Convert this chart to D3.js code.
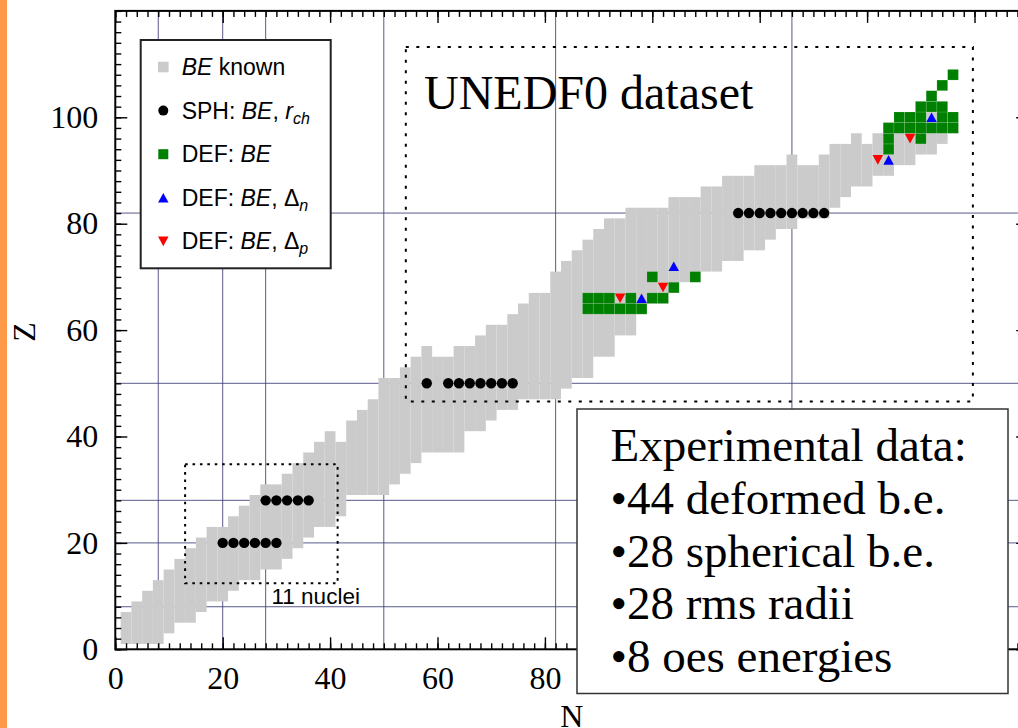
<!DOCTYPE html>
<html>
<head>
<meta charset="utf-8">
<script src="https://cdn.jsdelivr.net/npm/d3@7"></script>
<style>
  html, body { margin: 0; padding: 0; background: #fff; }
  svg { display: block; }
</style>
</head>
<body>
<svg id="chart" width="1018" height="728"></svg>
<script>
// Even-even nuclei with known binding energies: for each even N, the lowest and highest even Z
const knownN    = [2,4,6,8,10,12,14,16,18,20,22,24,26,28,30,32,34,36,38,40,42,44,46,48,50,52,54,56,58,60,62,64,66,68,70,72,74,76,78,80,82,84,86,88,90,92,94,96,98,100,102,104,106,108,110,112,114,116,118,120,122,124,126,128,130,132,134,136,138,140,142,144,146,148,150,152,154,156];
const knownZmin = [2,2,2,2,4,6,6,8,10,10,12,14,14,16,16,18,20,22,24,24,26,30,30,30,30,32,34,36,38,38,38,38,42,42,44,46,46,48,48,48,48,50,52,52,56,56,60,60,64,66,66,68,70,70,72,72,74,74,76,76,78,80,80,82,82,82,84,86,88,88,90,90,92,92,94,94,96,98];
const knownZmax = [6,8,10,12,14,16,18,20,22,22,24,26,28,30,30,32,34,36,38,40,38,42,44,46,50,50,52,54,56,54,54,56,56,58,60,60,62,64,66,66,70,72,74,76,78,80,80,82,82,82,82,84,84,84,86,86,88,88,88,90,90,90,92,90,90,92,94,94,96,94,96,98,98,98,98,100,98,98];

// Spherical nuclei fitted with binding energies and charge radii
const sphN = [20,22,24,26,28,30, 28,30,32,34,36, 58,62,64,66,68,70,72,74, 116,118,120,122,124,126,128,130,132];
const sphZ = [20,20,20,20,20,20, 28,28,28,28,28, 50,50,50,50,50,50,50,50, 82,82,82,82,82,82,82,82,82];

// Deformed nuclei fitted with binding energies only
const defN = [88,90,92,94,96,98, 88,90,92,96,100,102, 104, 100,108,
              144, 144,150, 144,146,148,150,152,154,156, 146,148,150,154,156, 150,152,154, 152, 154, 156];
const defZ = [64,64,64,64,64,64, 66,66,66,66,66,66, 68, 70,70,
              94, 96,96, 98,98,98,98,98,98,98, 100,100,100,100,100, 102,102,102, 104, 106, 108];

// Deformed nuclei also fitted with neutron / proton odd-even staggering
const dnN = [98,104,144,152];
const dnZ = [66,72,92,100];
const dpN = [94,102,142,148];
const dpZ = [66,68,92,96];

const magicNumbers = [8,20,28,50,82,126];
const xMajorTicks = [0,20,40,60,80,100,120,140,160];
const xTickLabels = [0,20,40,60,80];
const yTickValues = [0,20,40,60,80,100];

const legendRows = [
  {mark: "known", parts: [["BE","i"],[" known",""]]},
  {mark: "sph",   parts: [["SPH: ",""],["BE","i"],[", ",""],["r","i"],["ch","sub"]]},
  {mark: "def",   parts: [["DEF: ",""],["BE","i"]]},
  {mark: "dn",    parts: [["DEF: ",""],["BE","i"],[", \u0394",""],["n","sub"]]},
  {mark: "dp",    parts: [["DEF: ",""],["BE","i"],[", \u0394",""],["p","sub"]]}
];
const infoLines = ["Experimental data:", "\u202244 deformed b.e.", "\u202228 spherical b.e.", "\u202228 rms radii", "\u20228 oes energies"];

// ---------------------------------------------------------------
const svg = d3.select("#chart");
const serif = "'Liberation Serif', 'Times New Roman', serif";
const sans  = "'Liberation Sans', Arial, Helvetica, sans-serif";

const x = d3.scaleLinear().domain([0, 170]).range([115.3, 1028.2]);
const y = d3.scaleLinear().domain([0, 120]).range([649.3, 10.9]);

const GRAY = "#cbcbcb", GREEN = "#008000", BLUE = "#0000ff", RED = "#ff0000";

svg.append("rect").attr("width", 1018).attr("height", 728).attr("fill", "#fff");
svg.append("rect").attr("x", 0).attr("y", 0).attr("width", 7).attr("height", 728).attr("fill", "#fd9a48");

svg.append("defs").append("clipPath").attr("id", "plotClip")
  .append("rect").attr("x", x(0)).attr("y", y(120))
  .attr("width", x(170) - x(0)).attr("height", y(0) - y(120));

const plot = svg.append("g").attr("clip-path", "url(#plotClip)");

// magic-number lines
plot.append("g").selectAll("line").data(magicNumbers).join("line")
  .attr("x1", d => x(d)).attr("x2", d => x(d))
  .attr("y1", y(0)).attr("y2", y(120))
  .attr("stroke", "#3c3c78").attr("stroke-opacity", 0.85).attr("stroke-width", 1);
plot.append("g").selectAll("line").data(magicNumbers).join("line")
  .attr("y1", d => y(d)).attr("y2", d => y(d))
  .attr("x1", x(0)).attr("x2", x(170))
  .attr("stroke", "#3c3c78").attr("stroke-opacity", 0.85).attr("stroke-width", 1);

// known nuclei: one column of 2x2 cells per even N
const columns = knownN.map((n, i) => ({n, z0: knownZmin[i], z1: knownZmax[i]}));
plot.append("g").selectAll("rect").data(columns).join("rect")
  .attr("x", d => x(d.n - 1)).attr("y", d => y(d.z1 + 1))
  .attr("width", d => x(d.n + 1) - x(d.n - 1))
  .attr("height", d => y(d.z0 - 1) - y(d.z1 + 1))
  .attr("fill", GRAY);

const cell = sel => sel
  .attr("x", d => x(d.n - 1)).attr("y", d => y(d.z + 1))
  .attr("width", d => x(d.n + 1) - x(d.n - 1))
  .attr("height", d => y(d.z - 1) - y(d.z + 1));

const defCells = defN.map((n, i) => ({n, z: defZ[i]}));
plot.append("g").selectAll("rect").data(defCells).join("rect")
  .call(cell).attr("fill", GREEN)
  .attr("stroke", "rgba(255,255,255,0.22)").attr("stroke-width", 0.6);

// spherical nuclei
plot.append("g").selectAll("circle").data(sphN.map((n, i) => ({n, z: sphZ[i]}))).join("circle")
  .attr("cx", d => x(d.n)).attr("cy", d => y(d.z)).attr("r", 5.2).attr("fill", "#000");

const triW = 10.5, triH = 9.6;
const triUp = `M0,${-triH/2}L${triW/2},${triH/2}L${-triW/2},${triH/2}Z`;
const triDown = `M0,${triH/2}L${triW/2},${-triH/2}L${-triW/2},${-triH/2}Z`;

plot.append("g").selectAll("path").data(dnN.map((n, i) => ({n, z: dnZ[i]}))).join("path")
  .attr("d", triUp).attr("transform", d => `translate(${x(d.n)},${y(d.z)})`).attr("fill", BLUE);
plot.append("g").selectAll("path").data(dpN.map((n, i) => ({n, z: dpZ[i]}))).join("path")
  .attr("d", triDown).attr("transform", d => `translate(${x(d.n)},${y(d.z)})`).attr("fill", RED);

// dashed regions
function dashedBox(n0, n1, z0, z1, dash) {
  svg.append("rect")
    .attr("x", x(n0)).attr("y", y(z1))
    .attr("width", x(n1) - x(n0)).attr("height", y(z0) - y(z1))
    .attr("fill", "none").attr("stroke", "#000").attr("stroke-width", 2)
    .attr("stroke-dasharray", dash);
}
dashedBox(54.1, 159.7, 46.6, 113.2, "3,7.5");
dashedBox(13.0, 41.4, 12.4, 34.8, "2.6,4.8");

svg.append("text").attr("x", 424).attr("y", 108.5)
  .attr("font-family", serif).attr("font-size", 48).attr("fill", "#000")
  .text("UNEDF0 dataset");
svg.append("text").attr("x", 271.5).attr("y", 604)
  .attr("font-family", sans).attr("font-size", 22.5).attr("fill", "#000")
  .text("11 nuclei");

// axes: ticks point inward on all four sides
function styleAxis(g) {
  g.select(".domain").remove();
  g.selectAll(".tick line").attr("stroke", "#000").attr("stroke-width", 1.4);
  g.selectAll(".tick text").attr("font-family", serif).attr("font-size", 32).attr("fill", "#000");
}
const minorX = d3.range(0, 171, 2), minorY = d3.range(0, 121, 2);

svg.append("g").attr("transform", `translate(0,${y(0)})`)
  .call(d3.axisBottom(x).tickValues(minorX).tickSize(-6).tickFormat("")).call(styleAxis);
svg.append("g").attr("transform", `translate(0,${y(0)})`)
  .call(d3.axisBottom(x).tickValues(xMajorTicks).tickSize(-12).tickFormat("")).call(styleAxis);
svg.append("g").attr("transform", `translate(0,${y(0)})`)
  .call(d3.axisBottom(x).tickValues(xTickLabels).tickSize(0).tickPadding(16.5).tickFormat(d3.format("d")))
  .call(styleAxis);
svg.append("g").attr("transform", `translate(0,${y(120)})`)
  .call(d3.axisTop(x).tickValues(minorX).tickSize(-6).tickFormat("")).call(styleAxis);
svg.append("g").attr("transform", `translate(0,${y(120)})`)
  .call(d3.axisTop(x).tickValues(xMajorTicks).tickSize(-12).tickFormat("")).call(styleAxis);

svg.append("g").attr("transform", `translate(${x(0)},0)`)
  .call(d3.axisLeft(y).tickValues(minorY).tickSize(-6).tickFormat("")).call(styleAxis);
svg.append("g").attr("transform", `translate(${x(0)},0)`)
  .call(d3.axisLeft(y).tickValues(yTickValues).tickSize(-12).tickPadding(17).tickFormat(d3.format("d")))
  .call(styleAxis);
svg.append("g").attr("transform", `translate(${x(170)},0)`)
  .call(d3.axisRight(y).tickValues(minorY).tickSize(-6).tickFormat("")).call(styleAxis);
svg.append("g").attr("transform", `translate(${x(170)},0)`)
  .call(d3.axisRight(y).tickValues(yTickValues).tickSize(-12).tickFormat("")).call(styleAxis);

svg.append("rect")
  .attr("x", x(0)).attr("y", y(120))
  .attr("width", x(170) - x(0)).attr("height", y(0) - y(120))
  .attr("fill", "none").attr("stroke", "#000").attr("stroke-width", 2);

// axis titles
svg.append("text").attr("transform", "translate(35,332) rotate(-90)")
  .attr("text-anchor", "middle").attr("font-family", serif).attr("font-size", 32).text("Z");
svg.append("text").attr("x", (x(0) + x(170)) / 2).attr("y", 727)
  .attr("text-anchor", "middle").attr("font-family", serif).attr("font-size", 32).text("N");

// legend
const lg = svg.append("g");
lg.append("rect").attr("x", 140.7).attr("y", 40).attr("width", 190).attr("height", 228.3)
  .attr("fill", "#fff").attr("stroke", "#222").attr("stroke-width", 2);
legendRows.forEach((row, i) => {
  const base = 75 + i * 43.6, mx = 163.3, my = base - 8;
  if (row.mark === "known") {
    lg.append("rect").attr("x", mx - 5.3).attr("y", my - 5.3).attr("width", 10.6).attr("height", 10.6).attr("fill", GRAY);
  } else if (row.mark === "sph") {
    lg.append("circle").attr("cx", mx).attr("cy", my).attr("r", 5).attr("fill", "#000");
  } else if (row.mark === "def") {
    lg.append("rect").attr("x", mx - 5).attr("y", my - 5).attr("width", 10).attr("height", 10).attr("fill", GREEN);
  } else if (row.mark === "dn") {
    lg.append("path").attr("d", triUp).attr("transform", `translate(${mx},${my})`).attr("fill", BLUE);
  } else {
    lg.append("path").attr("d", triDown).attr("transform", `translate(${mx},${my})`).attr("fill", RED);
  }
  const t = lg.append("text").attr("x", 181.7).attr("y", base)
    .attr("font-family", sans).attr("font-size", 23).attr("fill", "#000");
  row.parts.forEach(([s, st]) => {
    const sp = t.append("tspan").text(s);
    if (st === "i") sp.attr("font-style", "italic");
    if (st === "sub") sp.attr("font-style", "italic").attr("font-size", 16).attr("dy", 5);
  });
});

// summary box
const ib = svg.append("g");
ib.append("rect").attr("x", 577).attr("y", 409).attr("width", 431).attr("height", 284.5)
  .attr("fill", "#fff").attr("stroke", "#333").attr("stroke-width", 1.5);
infoLines.forEach((s, i) => {
  ib.append("text").attr("x", 610.5).attr("y", 461 + i * 52.75)
    .attr("font-family", serif).attr("font-size", 47).attr("fill", "#000").text(s);
});
</script>
</body>
</html>
